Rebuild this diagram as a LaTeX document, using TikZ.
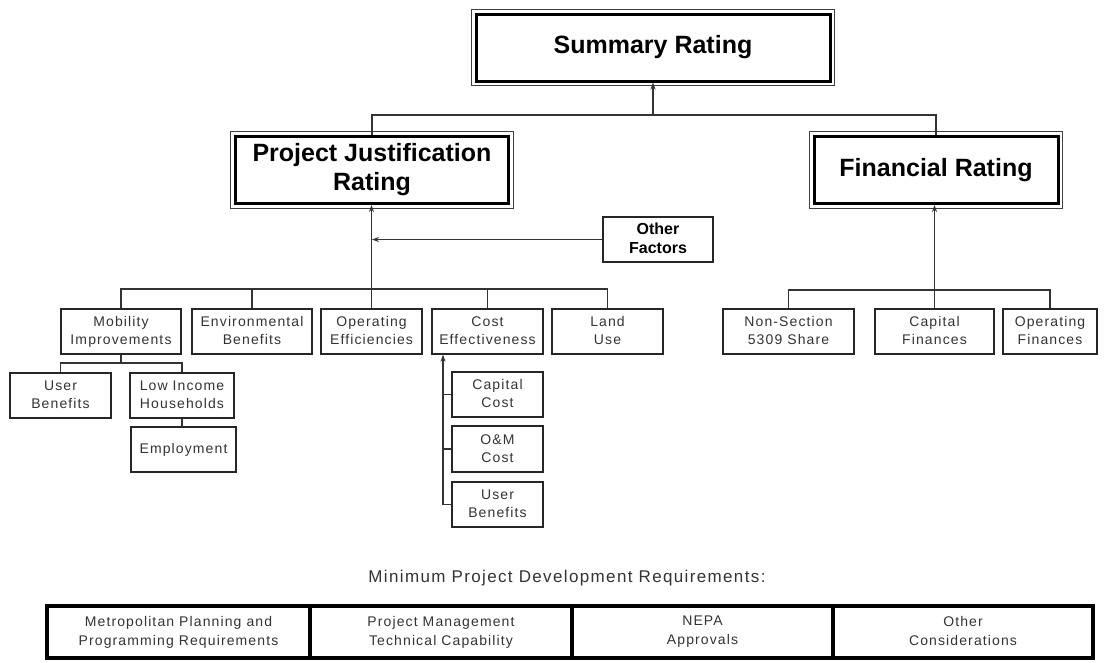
\documentclass[tikz,border=0pt]{standalone}
\usepackage{fontspec}
\setmainfont{Liberation Sans}
\newfontfamily\spfont[LetterSpace=8]{Liberation Sans}
\newcommand\mystrut{\rule[-0.12em]{0pt}{0.84em}}
\usetikzlibrary{arrows.meta,calc}
\begin{document}
\begin{tikzpicture}[x=1pt,y=-1pt,
  st/.style={execute at begin node=\mystrut, execute at end node=\mystrut},
  big/.style={draw, line width=3pt, font=\fontsize{25}{29}\selectfont\bfseries, align=center, inner sep=0pt, minimum height=67pt},
  sbox/.style={st, draw=black!85, line width=1.3pt, text=black!80, font=\spfont\fontsize{14}{18}\selectfont, align=center, inner sep=0pt, minimum height=45pt},
  obox/.style={st, draw=black!85, line width=1.3pt, font=\fontsize{16}{19}\selectfont\bfseries, align=center, inner sep=0pt, minimum height=45pt, minimum width=110pt},
  cell/.style={st, draw, line width=3.5pt, text=black!80, font=\spfont\fontsize{14}{19}\selectfont, align=center, inner sep=0pt, minimum height=52pt},
  conn/.style={line width=1.3pt, draw=black!80},
  arr/.style={conn, -{Stealth[length=7pt,width=5pt]}},
  captxt/.style={font=\spfont\fontsize{17}{19}\selectfont, text=black!80}
]
\useasboundingbox (0,0) rectangle (1107,662);

% top level
\node[big, minimum width=354pt] (sum) at (653,47.5) {Summary Rating};
\node[big, minimum width=273pt] (pjr) at (372,170) {Project Justification\\Rating};
\node[big, minimum width=244pt] (fin) at (936,170) {Financial Rating};
\foreach \n in {sum,pjr,fin}
  \draw[line width=1pt, black!75] ([shift={(-3.2,-3.2)}]\n.north west) rectangle ([shift={(3.2,3.2)}]\n.south east);

\node[obox] (oth) at (658,239.5) {Other\\Factors};

% second level, project justification
\node[sbox, minimum width=120pt] (mob) at (121,331.5) {Mobility\\Improvements};
\node[sbox, minimum width=120pt] (env) at (252,331.5) {Environmental\\Benefits};
\node[sbox, minimum width=101pt] (ope) at (371.5,331.5) {Operating\\Efficiencies};
\node[sbox, minimum width=111pt] (cst) at (487.5,331.5) {Cost\\Effectiveness};
\node[sbox, minimum width=111pt] (lnd) at (607.5,331.5) {Land\\Use};

% second level, financial
\node[sbox, minimum width=131pt] (nss) at (788.5,331.5) {Non-Section\\5309 Share};
\node[sbox, minimum width=119pt] (cfi) at (934.5,331.5) {Capital\\Finances};
\node[sbox, minimum width=94pt] (ofi) at (1050,331.5) {Operating\\Finances};

% mobility children
\node[sbox, minimum width=101pt] (ub1) at (60.5,395.5) {User\\Benefits};
\node[sbox, minimum width=104pt] (lih) at (182,395.5) {Low Income\\Households};
\node[sbox, minimum width=105pt] (emp) at (183.5,449.5) {Employment};

% cost children
\node[sbox, minimum width=91pt] (capc) at (497.5,394.5) {Capital\\Cost};
\node[sbox, minimum width=91pt, minimum height=46pt] (om) at (497.5,449) {O\&M\\Cost};
\node[sbox, minimum width=91pt] (ub2) at (497.5,504.5) {User\\Benefits};

% connectors top
\coordinate (topbar) at (653,115);
\draw[conn] (pjr.north) |- (topbar) -| (fin.north);
\draw[arr] (topbar) -- (sum.south);

% project justification tree
\coordinate (pjbar) at (372,289);
\draw[conn] (mob.north) |- (pjbar) -| (lnd.north);
\draw[conn] (env.north) -- (env.north |- pjbar);
\draw[conn] (cst.north) -- (cst.north |- pjbar);
\draw[arr] (ope.north) -- (ope.north |- pjr.south);
\draw[arr] (oth.west) -- (oth.west -| pjr.south);

% financial tree
\coordinate (fbar) at (934.5,290);
\draw[conn] (nss.north) |- (fbar) -| (ofi.north);
\draw[arr] (cfi.north) -- (cfi.north |- fin.south);

% mobility tree
\coordinate (mbar) at (121,363);
\draw[conn] (mob.south) -- (mbar);
\draw[conn] (ub1.north) |- (mbar) -| (lih.north);
\draw[conn] (lih.south) -- (lih.south |- emp.north);

% cost tree
\coordinate (cx) at (443,0);
\draw[arr] (ub2.west) -- (ub2.west -| cx) -- (cx |- cst.south);
\draw[conn] (capc.west) -- (capc.west -| cx);
\draw[conn] (om.west) -- (om.west -| cx);

% minimum requirements
\node[captxt] (minreq) at (567,578) {Minimum Project Development Requirements:};
\node[cell, minimum width=263pt] (c1) at (178.5,632) {Metropolitan Planning and\\Programming Requirements};
\node[cell, minimum width=262pt] (c2) at (441,632) {Project Management\\Technical Capability};
\node[cell, minimum width=261pt] (c3) at (702.5,632) {NEPA\\Approvals};
\node[cell, minimum width=260pt] (c4) at (963,632) {Other\\Considerations};
\end{tikzpicture}
\end{document}
